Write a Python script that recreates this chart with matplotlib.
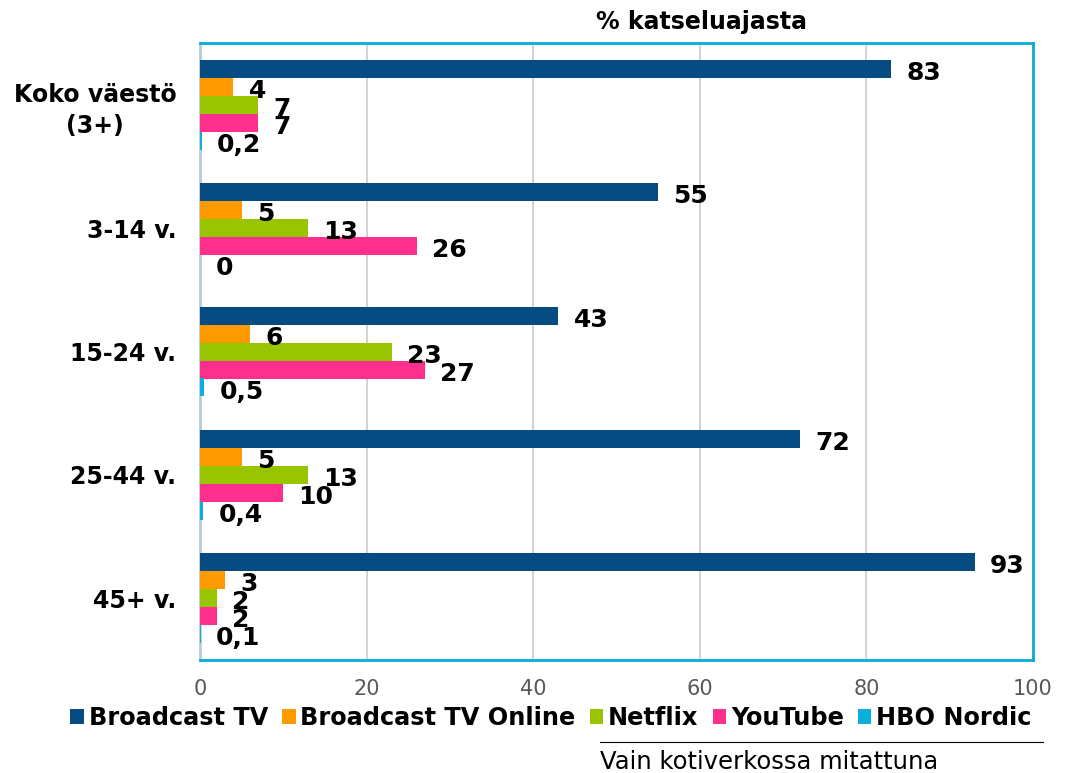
import matplotlib
matplotlib.use("Agg")
import matplotlib.pyplot as plt
import numpy as np
from matplotlib.patches import Patch
from matplotlib.lines import Line2D

categories = ["Koko väestö\n(3+)", "3-14 v.", "15-24 v.", "25-44 v.", "45+ v."]
series_names = ["Broadcast TV", "Broadcast TV Online", "Netflix", "YouTube", "HBO Nordic"]
broadcast_tv = [83, 55, 43, 72, 93]
broadcast_online = [4, 5, 6, 5, 3]
netflix = [7, 13, 23, 13, 2]
youtube = [7, 26, 27, 10, 2]
hbo_nordic = [0.2, 0, 0.5, 0.4, 0.1]
colors = ["#074B83", "#FF9A00", "#99C400", "#FF2F8D", "#0BAFDB"]
xticks = [0, 20, 40, 60, 80, 100]

series = [broadcast_tv, broadcast_online, netflix, youtube, hbo_nordic]

plt.rcParams['font.family'] = ['DejaVu Sans']
fig = plt.figure(figsize=(10.69, 7.73), dpi=100)
ax = fig.add_axes([200/1069, 1 - 660/773, 833/1069, 617/773])

n = len(categories)
bh = 18/123.4
ypos = np.arange(n)
for i, (vals, col) in enumerate(zip(series, colors)):
    y = ypos - 2*bh + i*bh
    ax.barh(y, vals, height=bh, color=col, zorder=3)
    for yy, v in zip(y, vals):
        lab = ("%g" % v).replace(".", ",")
        ax.annotate(lab, (v, yy), xytext=(11, -3), textcoords="offset points",
                    ha="left", va="center", fontsize=18, fontweight="bold",
                    color="black", zorder=5)

ax.set_xlim(0, 100)
ax.set_ylim(n - 0.5, -0.5)
ax.set_yticks(ypos)
ax.set_yticklabels(categories, fontsize=17, fontweight="bold", linespacing=1.35,
                   multialignment="center")
ax.set_xticks(xticks)
ax.set_xticklabels([str(t) for t in xticks], fontsize=15, color="#595959")
ax.tick_params(axis="both", length=0)
ax.tick_params(axis="x", pad=14)
ax.tick_params(axis="y", pad=17)
ax.grid(axis="x", color="#D3D3D3", linewidth=1.5, zorder=0)
for s in ["top", "right", "bottom"]:
    ax.spines[s].set_color("#0AAAD9")
    ax.spines[s].set_linewidth(2)
ax.spines["left"].set_color("#B4CCDA")
ax.spines["left"].set_linewidth(2)

fig.text(701/1069, 1 - 22/773, "% katseluajasta", ha="center", va="center",
         fontsize=17, fontweight="bold")

handles = [Patch(facecolor=c, edgecolor="none") for c in colors]
leg = fig.legend(handles, series_names, loc="center", bbox_to_anchor=(551/1069, 1 - 718/773),
                 ncol=5, frameon=False, prop={"size": 17.3, "weight": "bold"},
                 handlelength=0.55, handleheight=0.55, handletextpad=0.2, columnspacing=0.6)

fig.add_artist(Line2D([600/1069, 1043/1069], [1 - 742/773, 1 - 742/773], color="black", linewidth=0.8))
fig.text(600/1069, 1 - 762/773, "Vain kotiverkossa mitattuna", ha="left", va="center", fontsize=17.5)

fig.savefig("out.png", dpi=100)
